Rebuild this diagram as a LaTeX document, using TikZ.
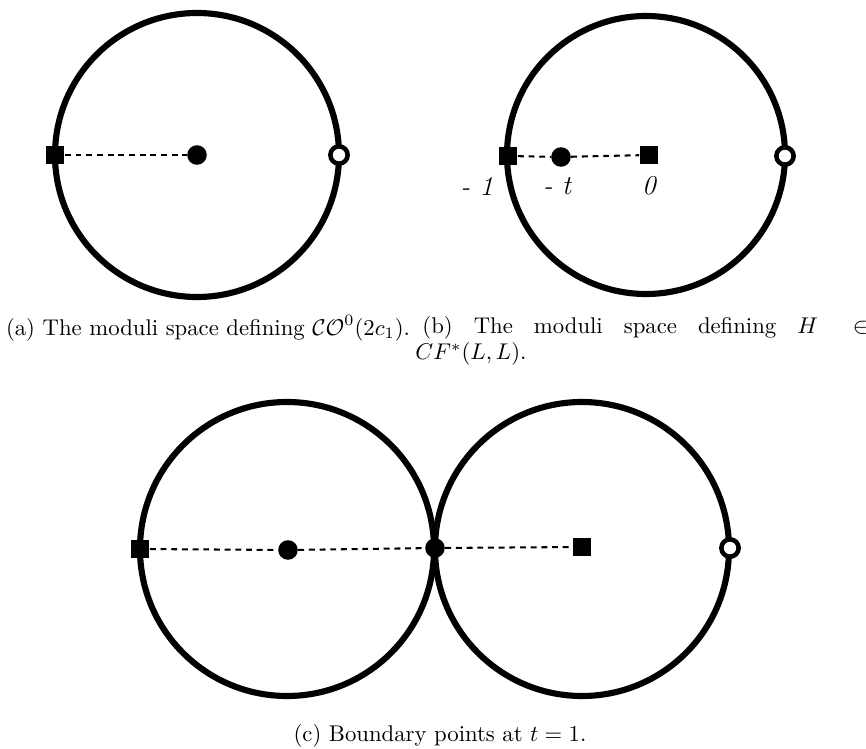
\documentclass[tikz,border=0pt]{standalone}
\usepackage{amsmath,amssymb}
\usetikzlibrary{arrows.meta}
\begin{document}
\begin{tikzpicture}[x=0.44pt,y=-0.44pt,every node/.style={font=\normalsize},
rim/.style={line width=2.7pt},tether/.style={line width=0.9pt,dash pattern=on 2.6pt off 2.1pt},
dot/.style={circle,fill,inner sep=0pt,minimum size=8.6pt},sq/.style={rectangle,fill,inner sep=0pt,minimum size=8.3pt},
hole/.style={circle,draw,fill=white,line width=2pt,inner sep=0pt,minimum size=7.6pt},
tick/.style={font=\large\itshape}]
\useasboundingbox (0,0) rectangle (866,749);
% (a)
\draw[rim] (197,155) circle (142);
\node[sq] (a1) at (55,155){};\node[dot] (a2) at (197,155){};\node[hole] (a3) at (339,155){};
\draw[tether] (a1)--(a2);
\node (capa) at (208,328){(a) The moduli space defining $\mathcal{CO}^0(2c_1)$.};
% (b)
\draw[rim] (646,155) circle (139);
\node[sq] (b1) at (508,156){};\node[dot] (b2) at (561,157){};\node[sq] (b3) at (649,155){};\node[hole] (b4) at (785,156){};
\draw[tether] (b1)--(b2);\draw[tether] (b2)--(b3);
\node[tick] (l1) at (477,186){- 1};\node[tick] (lt) at (557,186){- t};\node[tick] (l0) at (649,186){0};
\node[anchor=west,inner sep=0pt] (capb) at (422,328){\makebox[196pt][s]{(b)\hfill The\hfill moduli\hfill space\hfill defining\hfill $H$\hfill\hspace{6pt}$\in$}};
\node (capb2) at (471,354){$CF^*(L,L)$.};
% (c)
\draw[rim] (287,549) circle (147);\draw[rim] (582,549) circle (147);
\node[sq] (c1) at (140,549){};\node[dot] (c2) at (288,550){};\node[dot] (c3) at (435,548){};\node[sq] (c4) at (582,547){};\node[hole] (c5) at (730,548){};
\draw[tether] (c1)--(c2);\draw[tether] (c2)--(c3);\draw[tether] (c3)--(c4);
\node (capc) at (440,736){(c) Boundary points at $t=1$.};
\end{tikzpicture}
\end{document}
